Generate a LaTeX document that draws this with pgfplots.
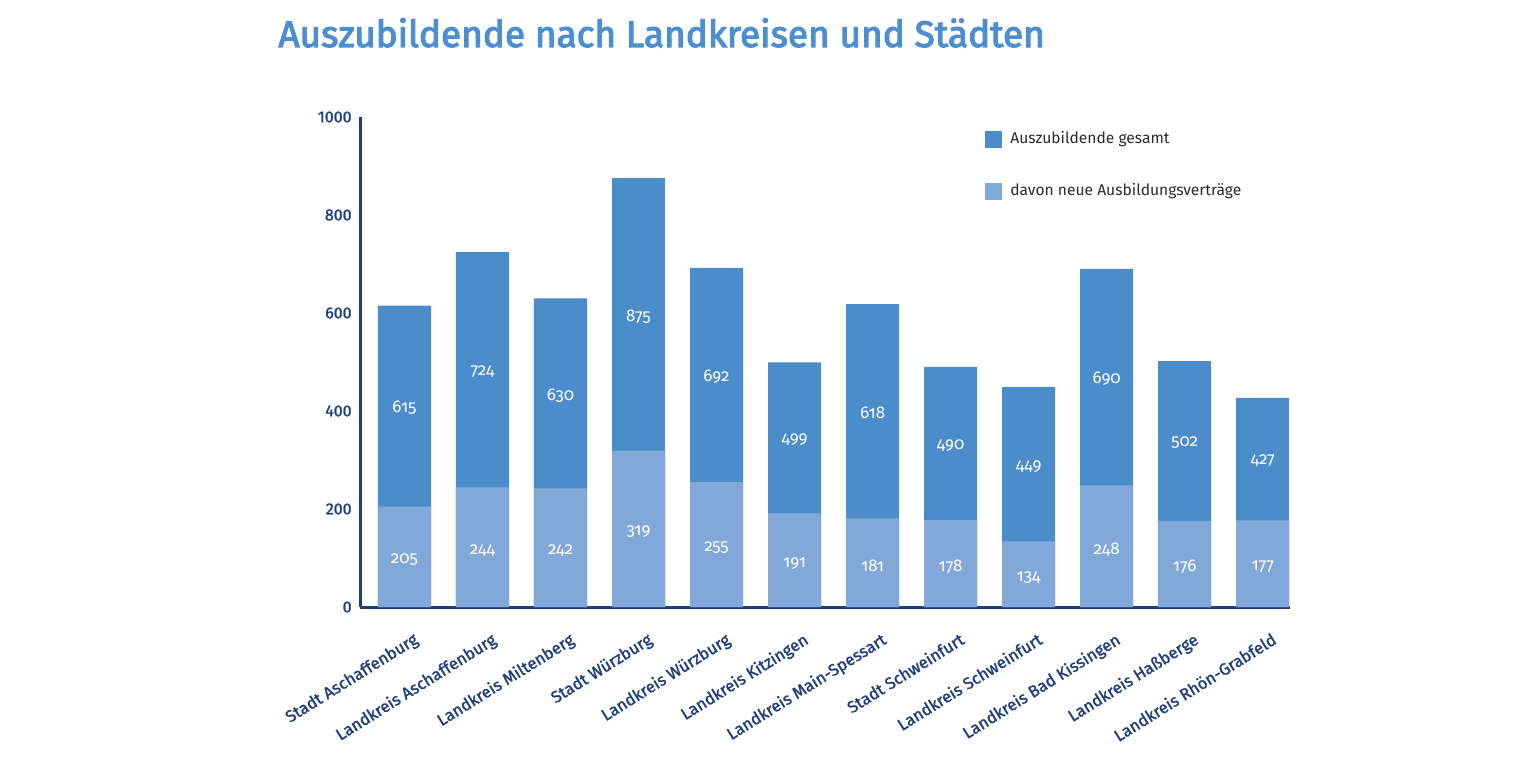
\documentclass[border=0pt]{standalone}
\usepackage{fontspec}
\setmainfont{Fira Sans}
\newfontfamily\osf{Fira Sans}[Numbers=OldStyle]
\newfontfamily\titlefont{Fira Sans}[FakeBold=3]
\newfontfamily\labelfont{Fira Sans}[FakeBold=1.5]
\usepackage{pgfplots}
\usepackage{pgfplotstable}
\pgfplotsset{compat=1.18}

\definecolor{darkbar}{HTML}{4B8CCB}
\definecolor{lightbar}{HTML}{82A8DA}
\definecolor{navy}{HTML}{1E3E7E}
\definecolor{titleblue}{HTML}{4C8ECF}
\definecolor{legendtext}{HTML}{2B2B2B}

% x, total apprentices, of which new contracts
\pgfplotstableread{
x total new
0 615 205
1 724 244
2 630 242
3 875 319
4 692 255
5 499 191
6 618 181
7 490 178
8 449 134
9 690 248
10 502 176
11 427 177
}\azubi

\begin{document}
\begin{tikzpicture}
\useasboundingbox (0,0) rectangle (760pt,380pt);
\node[anchor=base west, inner sep=0pt, font=\titlefont\fontsize{18.5}{22}\selectfont, text=titleblue]
  at (139pt,356.5pt) {Auszubildende nach Landkreisen und Städten};
\begin{axis}[
    at={(180pt,76.5pt)}, anchor=south west,
    scale only axis,
    width=465pt, height=245pt,
    xmin=-0.57, xmax=11.35,
    ymin=0, ymax=1000,
    axis x line=bottom, axis y line=left,
    axis line style={-, navy, line width=1.5pt},
    major tick length=0pt,
    xtick={0,...,11},
    xticklabels={Stadt Aschaffenburg, Landkreis Aschaffenburg, Landkreis Miltenberg,
        Stadt Würzburg, Landkreis Würzburg, Landkreis Kitzingen, Landkreis Main-Spessart,
        Stadt Schweinfurt, Landkreis Schweinfurt, Landkreis Bad Kissingen,
        Landkreis Haßberge, Landkreis Rhön-Grabfeld},
    x tick label style={rotate=32, anchor=north east, inner sep=0pt,
        yshift=-12.5pt, xshift=-3pt, font=\labelfont\fontsize{8.3}{10}\selectfont, text=navy},
    ytick={0,200,...,1000},
    y tick label style={inner sep=0pt, xshift=-4pt, font=\labelfont\fontsize{8}{10}\selectfont,
        text=navy, /pgf/number format/assume math mode=true,
        /pgf/number format/1000 sep={}},
    legend style={at={(0.672,0.973)}, anchor=north west, draw=none, fill=none,
        inner sep=0pt, row sep=17.5pt, font=\fontsize{7.8}{10}\selectfont,
        text=legendtext,
        nodes={inner sep=0pt}, /tikz/every odd column/.append style={column sep=4pt}},
    legend image code/.code={\fill[#1] (0pt,-4.25pt) rectangle (8.5pt,4.25pt);},
    legend cell align=left,
]
\addplot[ybar, bar width=0.68, bar shift=0pt, fill=darkbar, draw=none]
    table[x=x, y=total] {\azubi};
\addlegendentry{Auszubildende gesamt}
\addplot[ybar, bar width=0.68, bar shift=0pt, fill=lightbar, draw=none]
    table[x=x, y=new] {\azubi};
\addlegendentry{davon neue Ausbildungsverträge}

% value labels, white, centred in each part of the bars
\addplot[draw=none, mark=none, forget plot, point meta=explicit symbolic,
    nodes near coords, nodes near coords style={anchor=center, text=white,
    yshift=-1pt, font=\osf\fontsize{8.5}{10}\selectfont}]
    table[x=x, y expr={(\thisrow{total}+\thisrow{new})/2}, meta=total] {\azubi};
\addplot[draw=none, mark=none, forget plot, point meta=explicit symbolic,
    nodes near coords, nodes near coords style={anchor=center, text=white,
    yshift=-1.5pt, font=\osf\fontsize{8.5}{10}\selectfont}]
    table[x=x, y expr={\thisrow{new}/2}, meta=new] {\azubi};
\end{axis}
\end{tikzpicture}
\end{document}
